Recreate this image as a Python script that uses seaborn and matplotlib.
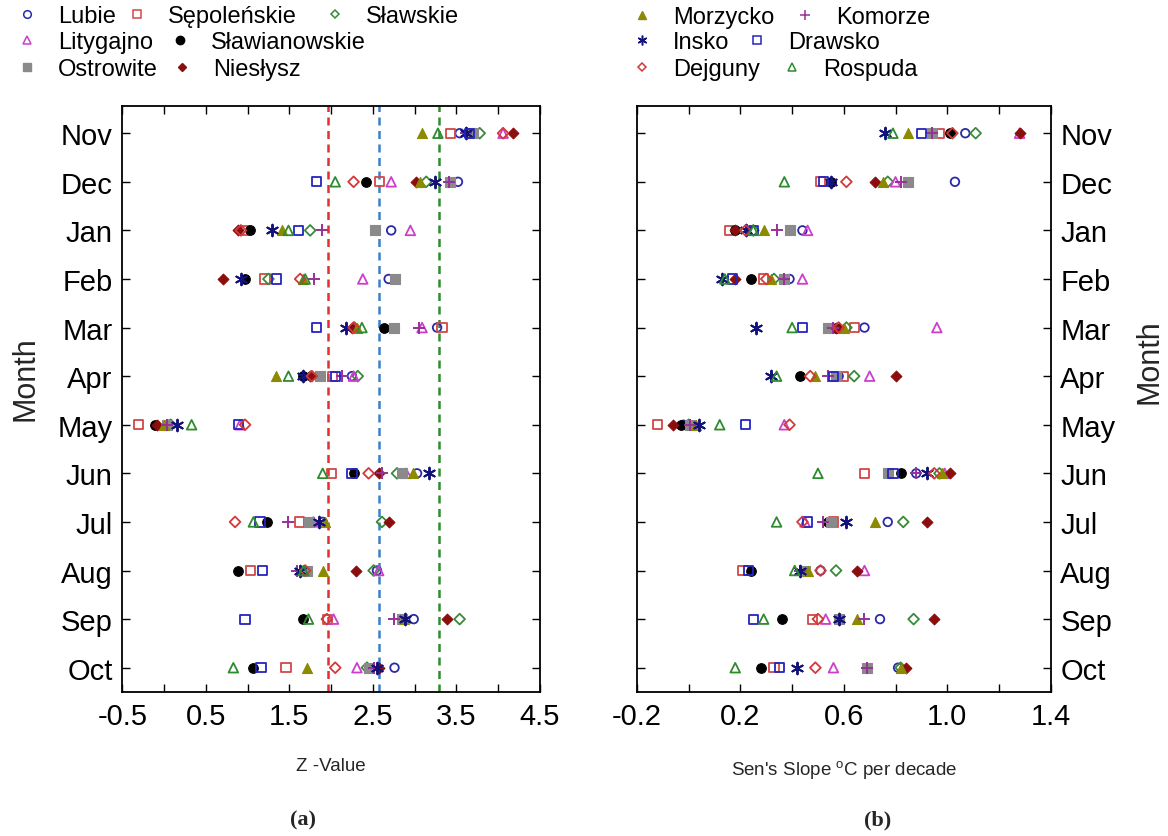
import numpy as np
import pandas as pd
import matplotlib
matplotlib.use("Agg")
import matplotlib.pyplot as plt
import seaborn as sns
from matplotlib.lines import Line2D
from matplotlib.ticker import FixedLocator, FormatStrFormatter

# ---------------- data ----------------
months = ["Nov", "Dec", "Jan", "Feb", "Mar", "Apr", "May", "Jun", "Jul", "Aug", "Sep", "Oct"]

stations = ["Lubie", "Sępoleńskie", "Sławskie", "Litygajno", "Sławianowskie", "Ostrowite",
            "Niesłysz", "Morzycko", "Komorze", "Insko", "Drawsko", "Dejguny", "Rospuda"]

# Z-values (Mann-Kendall), Nov..Oct
z_lubie = [3.54, 3.52, 2.72, 2.69, 3.27, 2.25, 0.05, 3.03, 1.90, 2.55, 2.99, 2.76]
z_sepolenskie = [3.43, 2.58, 0.98, 1.21, 3.33, 2.02, -0.31, 2.01, 1.62, 1.04, 1.96, 1.46]
z_slawskie = [3.78, 3.14, 1.75, 1.25, 2.28, 2.32, 0.08, 2.79, 2.61, 2.51, 3.54, 2.43]
z_litygajno = [4.06, 2.72, 2.95, 2.38, 3.09, 2.27, 0.91, 2.90, 1.79, 2.57, 2.03, 2.31]
z_slawianowskie = [3.64, 2.42, 1.03, 0.97, 2.63, 1.67, -0.11, 2.27, 1.23, 0.89, 1.66, 1.06]
z_ostrowite = [3.70, 3.43, 2.53, 2.77, 2.75, 1.87, 0.03, 2.85, 1.73, 1.71, 2.85, 2.45]
z_nieslysz = [4.18, 3.02, 0.89, 0.70, 2.25, 1.75, -0.09, 2.57, 2.69, 2.30, 3.39, 2.58]
z_morzycko = [3.09, 3.06, 1.41, 1.66, 2.31, 1.34, 0.00, 2.98, 1.93, 1.90, 2.87, 1.71]
z_komorze = [3.62, 3.41, 1.89, 1.79, 3.05, 2.13, 0.03, 2.61, 1.49, 1.59, 2.75, 2.51]
z_insko = [3.62, 3.25, 1.29, 0.92, 2.18, 1.67, 0.15, 3.17, 1.86, 1.63, 2.89, 2.55]
z_drawsko = [3.66, 1.83, 1.61, 1.35, 1.83, 2.05, 0.89, 2.25, 1.15, 1.18, 0.97, 1.16]
z_dejguny = [4.06, 2.27, 0.92, 1.63, 2.27, 1.77, 0.97, 2.45, 0.85, 1.69, 1.95, 2.05]
z_rospuda = [3.28, 2.05, 1.49, 1.69, 2.37, 1.49, 0.33, 1.90, 1.07, 1.67, 1.73, 0.83]

# Sen's slope (deg C per decade), Nov..Oct
s_lubie = [1.07, 1.03, 0.44, 0.39, 0.68, 0.58, -0.02, 0.88, 0.77, 0.51, 0.74, 0.81]
s_sepolenskie = [0.97, 0.51, 0.16, 0.29, 0.64, 0.60, -0.12, 0.68, 0.56, 0.21, 0.48, 0.33]
s_slawskie = [1.11, 0.77, 0.25, 0.33, 0.61, 0.64, 0.00, 0.97, 0.83, 0.57, 0.87, 0.82]
s_litygajno = [1.28, 0.80, 0.46, 0.44, 0.96, 0.70, 0.37, 0.99, 0.45, 0.68, 0.53, 0.56]
s_slawianowskie = [1.01, 0.55, 0.18, 0.24, 0.57, 0.43, -0.03, 0.82, 0.54, 0.24, 0.36, 0.28]
s_ostrowite = [0.94, 0.85, 0.39, 0.37, 0.54, 0.57, 0.005, 0.77, 0.55, 0.45, 0.58, 0.69]
s_nieslysz = [1.28, 0.72, 0.18, 0.18, 0.57, 0.80, -0.06, 1.01, 0.92, 0.65, 0.95, 0.84]
s_morzycko = [0.85, 0.75, 0.29, 0.32, 0.60, 0.49, 0.03, 0.98, 0.72, 0.46, 0.65, 0.82]
s_komorze = [0.94, 0.82, 0.34, 0.37, 0.56, 0.54, 0.005, 0.88, 0.52, 0.43, 0.68, 0.69]
s_insko = [0.76, 0.55, 0.22, 0.13, 0.26, 0.32, 0.04, 0.92, 0.61, 0.43, 0.58, 0.42]
s_drawsko = [0.90, 0.52, 0.25, 0.17, 0.44, 0.56, 0.22, 0.79, 0.46, 0.23, 0.25, 0.35]
s_dejguny = [1.02, 0.61, 0.22, 0.30, 0.58, 0.47, 0.39, 0.95, 0.44, 0.51, 0.50, 0.49]
s_rospuda = [0.79, 0.37, 0.25, 0.14, 0.40, 0.34, 0.12, 0.50, 0.34, 0.41, 0.29, 0.18]

z_values = [z_lubie, z_sepolenskie, z_slawskie, z_litygajno, z_slawianowskie, z_ostrowite,
            z_nieslysz, z_morzycko, z_komorze, z_insko, z_drawsko, z_dejguny, z_rospuda]
s_values = [s_lubie, s_sepolenskie, s_slawskie, s_litygajno, s_slawianowskie, s_ostrowite,
            s_nieslysz, s_morzycko, s_komorze, s_insko, s_drawsko, s_dejguny, s_rospuda]

z_thresholds = [1.96, 2.576, 3.29]

# ---------------- styles ----------------
ASTER = (6, 2, 0)
styles = {
    "Lubie":         dict(marker="o", color="#2a2aa8", fill="open", s=38),
    "Sępoleńskie":   dict(marker="s", color="#d24848", fill="open", s=44),
    "Sławskie":      dict(marker="D", color="#3a8a3a", fill="open", s=30),
    "Litygajno":     dict(marker="^", color="#cc3fcc", fill="open", s=48),
    "Sławianowskie": dict(marker="o", color="#000000", fill="filled", s=48),
    "Ostrowite":     dict(marker="s", color="#8a8a8a", fill="filled", s=52),
    "Niesłysz":      dict(marker="D", color="#8b0d0d", fill="filled", s=30),
    "Morzycko":      dict(marker="^", color="#8c8a00", fill="filled", s=52),
    "Komorze":       dict(marker="+", color="#98309a", fill="line", s=70),
    "Insko":         dict(marker=ASTER, color="#12127a", fill="line", s=70),
    "Drawsko":       dict(marker="s", color="#2424c0", fill="open", s=44),
    "Dejguny":       dict(marker="D", color="#d23a3a", fill="open", s=30),
    "Rospuda":       dict(marker="^", color="#2e8b2e", fill="open", s=48),
}

W, H = 1168, 837
sns.set_theme(style="ticks")
plt.rcParams["font.family"] = ["Liberation Sans", "DejaVu Sans"]
plt.rcParams["axes.unicode_minus"] = False
plt.rcParams["mathtext.fontset"] = "custom"
plt.rcParams["mathtext.rm"] = "Liberation Sans"
plt.rcParams["mathtext.it"] = "Liberation Sans:italic"

fig = plt.figure(figsize=(W / 100, H / 100), dpi=100)
ax1 = fig.add_axes([122.3 / W, 1 - 693 / H, 417.5 / W, 586 / H])
ax2 = fig.add_axes([637 / W, 1 - 693 / H, 413.6 / W, 586 / H])

line_colors = ["#e03030", "#3a80c8", "#2e8b2e"]
for v, c in zip(z_thresholds, line_colors):
    ax1.axvline(v, color=c, lw=1.8, ls=(0, (3.2, 2.2)), zorder=1)


def draw(ax, values):
    for name, vals in zip(stations, values):
        st = styles[name]
        kw = dict(marker=st["marker"], s=st["s"], zorder=3, legend=False)
        if st["fill"] == "open":
            kw.update(color=st["color"], facecolors="none", edgecolor=st["color"], linewidth=1.3)
        elif st["fill"] == "filled":
            kw.update(color=st["color"], edgecolor=st["color"], linewidth=0.8)
        else:
            kw.update(color=st["color"], linewidth=1.4)
        df = pd.DataFrame({"value": vals, "month": months})
        sns.scatterplot(data=df, x="value", y="month", ax=ax, **kw)


draw(ax1, z_values)
draw(ax2, s_values)

TICK_FS = 21
for ax in (ax1, ax2):
    ax.set_ylim(11.5, -0.56)
    ax.set_xlabel("")
    ax.set_ylabel("")
    for sp in ax.spines.values():
        sp.set_visible(True)
        sp.set_color("black")
        sp.set_linewidth(1.3)
    ax.tick_params(which="both", direction="in", top=True, bottom=True, left=True, right=True,
                   length=6, width=1.0, color="black", labelsize=TICK_FS, labelcolor="black")
    ax.tick_params(axis="x", pad=7)
    ax.tick_params(axis="y", pad=7)

ax1.set_xlim(-0.5, 4.5)
ax1.xaxis.set_major_locator(FixedLocator([-0.5, 0.5, 1.5, 2.5, 3.5, 4.5]))
ax1.xaxis.set_minor_locator(FixedLocator([0, 1, 2, 3, 4]))
ax1.xaxis.set_major_formatter(FormatStrFormatter("%.1f"))
ax1.tick_params(axis="y", labelleft=True, labelright=False)

ax2.set_xlim(-0.2, 1.4)
ax2.xaxis.set_major_locator(FixedLocator([-0.2, 0.2, 0.6, 1.0, 1.4]))
ax2.xaxis.set_minor_locator(FixedLocator([0.0, 0.4, 0.8, 1.2]))
ax2.xaxis.set_major_formatter(FormatStrFormatter("%.1f"))
ax2.tick_params(axis="y", labelleft=False, labelright=True)

# axis titles
fig.text(25 / W, 1 - 379 / H, "Month", rotation=90, ha="center", va="center", fontsize=22)
fig.text(1150 / W, 1 - 362 / H, "Month", rotation=90, ha="center", va="center", fontsize=22)
fig.text(331 / W, 1 - 767 / H, "Z -Value", ha="center", va="center", fontsize=13.5)
fig.text(844 / W, 1 - 770 / H, "Sen's Slope $^{\\mathrm{o}}$C per decade", ha="center", va="center",
         fontsize=13.5)
fig.text(303 / W, 1 - 820 / H, "(a)", ha="center", va="center", fontsize=16,
         family=["Liberation Serif", "DejaVu Serif"], fontweight="bold")
fig.text(878 / W, 1 - 820 / H, "(b)", ha="center", va="center", fontsize=16,
         family=["Liberation Serif", "DejaVu Serif"], fontweight="bold")


# legends (one entry each, positioned as in the reference)
def handle(name):
    st = styles[name]
    if st["fill"] == "open":
        return Line2D([], [], ls="none", marker=st["marker"], markersize=5.5 if st["marker"] != "D" else 4.5,
                      markerfacecolor="none", markeredgecolor=st["color"], markeredgewidth=1.1)
    if st["fill"] == "filled":
        return Line2D([], [], ls="none", marker=st["marker"], markersize=6 if st["marker"] != "D" else 4.5,
                      markerfacecolor=st["color"], markeredgecolor=st["color"])
    return Line2D([], [], ls="none", marker=st["marker"], markersize=7, color=st["color"],
                  markeredgewidth=1.1)


legend_pos = {
    "Lubie": (27, 17), "Sępoleńskie": (137, 17), "Sławskie": (335, 17),
    "Litygajno": (27, 43), "Sławianowskie": (180, 43),
    "Ostrowite": (27, 70), "Niesłysz": (182, 70),
    "Morzycko": (642, 18), "Komorze": (805, 18),
    "Insko": (642, 43), "Drawsko": (757, 43),
    "Dejguny": (642, 70), "Rospuda": (792, 70),
}
LEG_FS = 17
for name, (mx, my) in legend_pos.items():
    hl = 0.8
    half = hl * LEG_FS * 100 / 72 / 2
    fig.legend(handles=[handle(name)], labels=[name], loc="center left",
               bbox_to_anchor=((mx - half) / W, 1 - my / H), frameon=False,
               handlelength=hl, handletextpad=0.9, borderpad=0, borderaxespad=0,
               fontsize=LEG_FS, labelcolor="black")

fig.savefig("out.png", dpi=100)
